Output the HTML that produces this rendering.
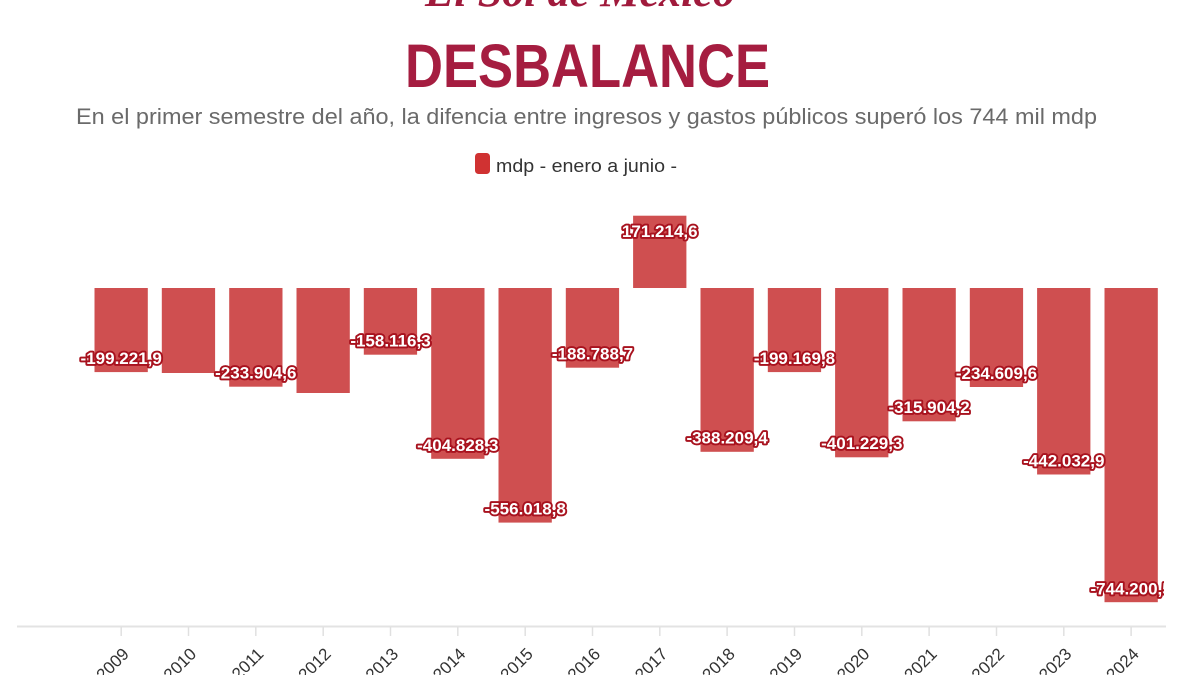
<!DOCTYPE html>
<html>
<head>
<meta charset="utf-8">
<style>
  html, body { margin:0; padding:0; background:#ffffff; }
  svg { display:block; }
  .lbl { font-family:"Liberation Sans", sans-serif; font-weight:bold; font-size:17px; fill:#ffffff; stroke:#a8121e; stroke-width:3.8px; stroke-linejoin:round; paint-order:stroke fill; text-anchor:middle; }
  .yr { font-family:"Liberation Sans", sans-serif; font-size:17px; fill:#333333; text-anchor:end; }
</style>
</head>
<body>
<svg width="1200" height="675" viewBox="0 0 1200 675" xmlns="http://www.w3.org/2000/svg">
  <rect x="0" y="0" width="1200" height="675" fill="#ffffff"/>
  <defs>
    <clipPath id="plot"><rect x="0" y="180" width="1164" height="440"/></clipPath>
  </defs>

  <!-- Logo (mostly cropped) -->
  <text x="425" y="6" font-family="'Liberation Serif', serif" font-weight="bold" font-style="italic" font-size="44" fill="#a01a3c" textLength="310" lengthAdjust="spacingAndGlyphs">El Sol de México</text>

  <!-- Title -->
  <text x="405" y="87" font-family="'Liberation Sans', sans-serif" font-weight="bold" font-size="61" fill="#a51d40" textLength="365" lengthAdjust="spacingAndGlyphs">DESBALANCE</text>

  <!-- Subtitle -->
  <text x="76" y="124" font-family="'Liberation Sans', sans-serif" font-size="22" fill="#6a6a6a" textLength="1021" lengthAdjust="spacingAndGlyphs">En el primer semestre del año, la difencia entre ingresos y gastos públicos superó los 744 mil mdp</text>

  <!-- Legend -->
  <rect x="475" y="153" width="15" height="21" rx="3.5" fill="#d03232"/>
  <text x="496" y="172" font-family="'Liberation Sans', sans-serif" font-size="18" fill="#333333" textLength="181" lengthAdjust="spacingAndGlyphs">mdp - enero a junio -</text>

  <!-- Bars -->
  <g fill="#cf4f50">
    <rect x="94.5"  y="288" width="53.3" height="84.1"/>
    <rect x="161.8" y="288" width="53.3" height="85"/>
    <rect x="229.2" y="288" width="53.3" height="98.7"/>
    <rect x="296.5" y="288" width="53.3" height="105"/>
    <rect x="363.8" y="288" width="53.3" height="66.7"/>
    <rect x="431.2" y="288" width="53.3" height="170.8"/>
    <rect x="498.5" y="288" width="53.3" height="234.6"/>
    <rect x="565.8" y="288" width="53.3" height="79.7"/>
    <rect x="633.1" y="215.7" width="53.3" height="72.3"/>
    <rect x="700.5" y="288" width="53.3" height="163.8"/>
    <rect x="767.8" y="288" width="53.3" height="84.1"/>
    <rect x="835.1" y="288" width="53.3" height="169.3"/>
    <rect x="902.5" y="288" width="53.3" height="133.3"/>
    <rect x="969.8" y="288" width="53.3" height="99"/>
    <rect x="1037.1" y="288" width="53.3" height="186.5"/>
    <rect x="1104.5" y="288" width="53.3" height="314.2"/>
  </g>

  <!-- Data labels -->
  <g clip-path="url(#plot)">
    <text class="lbl" x="121.2" y="364">-199.221,9</text>
    <text class="lbl" x="255.8" y="378.5">-233.904,6</text>
    <text class="lbl" x="390.5" y="346.5">-158.116,3</text>
    <text class="lbl" x="457.8" y="451">-404.828,3</text>
    <text class="lbl" x="525.2" y="514.5">-556.018,8</text>
    <text class="lbl" x="592.5" y="359.5">-188.788,7</text>
    <text class="lbl" x="659.8" y="237">171.214,6</text>
    <text class="lbl" x="727.1" y="443.5">-388.209,4</text>
    <text class="lbl" x="794.5" y="364">-199.169,8</text>
    <text class="lbl" x="861.8" y="449">-401.229,3</text>
    <text class="lbl" x="929.1" y="413">-315.904,2</text>
    <text class="lbl" x="996.5" y="379">-234.609,6</text>
    <text class="lbl" x="1063.8" y="466.5">-442.032,9</text>
    <text class="lbl" x="1131.1" y="594.5">-744.200,5</text>
  </g>

  <!-- X axis -->
  <line x1="17" y1="626.5" x2="1166" y2="626.5" stroke="#e3e3e3" stroke-width="2"/>
  <g stroke="#e0e0e0" stroke-width="1.5">
    <line x1="121.2" y1="627" x2="121.2" y2="636"/>
    <line x1="188.5" y1="627" x2="188.5" y2="636"/>
    <line x1="255.8" y1="627" x2="255.8" y2="636"/>
    <line x1="323.2" y1="627" x2="323.2" y2="636"/>
    <line x1="390.5" y1="627" x2="390.5" y2="636"/>
    <line x1="457.8" y1="627" x2="457.8" y2="636"/>
    <line x1="525.2" y1="627" x2="525.2" y2="636"/>
    <line x1="592.5" y1="627" x2="592.5" y2="636"/>
    <line x1="659.8" y1="627" x2="659.8" y2="636"/>
    <line x1="727.1" y1="627" x2="727.1" y2="636"/>
    <line x1="794.5" y1="627" x2="794.5" y2="636"/>
    <line x1="861.8" y1="627" x2="861.8" y2="636"/>
    <line x1="929.1" y1="627" x2="929.1" y2="636"/>
    <line x1="996.5" y1="627" x2="996.5" y2="636"/>
    <line x1="1063.8" y1="627" x2="1063.8" y2="636"/>
    <line x1="1131.1" y1="627" x2="1131.1" y2="636"/>
  </g>

  <!-- Year labels -->
  <text class="yr" transform="translate(130,655) rotate(-45)">2009</text>
  <text class="yr" transform="translate(197.3,655) rotate(-45)">2010</text>
  <text class="yr" transform="translate(264.6,655) rotate(-45)">2011</text>
  <text class="yr" transform="translate(332,655) rotate(-45)">2012</text>
  <text class="yr" transform="translate(399.3,655) rotate(-45)">2013</text>
  <text class="yr" transform="translate(466.6,655) rotate(-45)">2014</text>
  <text class="yr" transform="translate(534,655) rotate(-45)">2015</text>
  <text class="yr" transform="translate(601.3,655) rotate(-45)">2016</text>
  <text class="yr" transform="translate(668.6,655) rotate(-45)">2017</text>
  <text class="yr" transform="translate(735.9,655) rotate(-45)">2018</text>
  <text class="yr" transform="translate(803.3,655) rotate(-45)">2019</text>
  <text class="yr" transform="translate(870.6,655) rotate(-45)">2020</text>
  <text class="yr" transform="translate(937.9,655) rotate(-45)">2021</text>
  <text class="yr" transform="translate(1005.3,655) rotate(-45)">2022</text>
  <text class="yr" transform="translate(1072.6,655) rotate(-45)">2023</text>
  <text class="yr" transform="translate(1139.9,655) rotate(-45)">2024</text>
</svg>
</body>
</html>
